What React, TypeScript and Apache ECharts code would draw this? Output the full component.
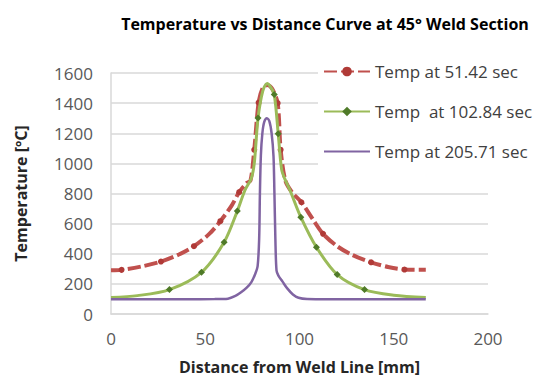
import React, { useEffect, useRef } from "react";
import * as echarts from "echarts";

const title = "Temperature vs Distance Curve at 45\u00B0 Weld Section";
const xName = "Distance from Weld Line [mm]";
const yName = "Temperature [\u00BAC]";
const xTicks = { min: 0, max: 200, interval: 50 };
const yTicks = { min: 0, max: 1600, interval: 200 };

const seriesNames = ["Temp at 51.42 sec", "Temp  at 102.84 sec", "Temp at 205.71 sec"];

// Temp at 51.42 sec
const redX = [0, 5.6, 16, 26.5, 36, 44, 52, 58, 64, 68, 72, 74, 76, 78.3, 80.5, 83, 85.5, 88.4, 90, 92.5, 96, 101, 107, 112.5, 120, 128, 138, 147, 155.7, 167];
const redT = [290, 293, 315, 348, 395, 450, 530, 616, 720, 809, 870, 886, 1090, 1403, 1500, 1520, 1495, 1400, 1090, 886, 809, 742, 630, 532, 450, 392, 343, 312, 295, 293];
const redM = [0, 1, 0, 1, 0, 1, 0, 1, 0, 1, 0, 0, 1, 1, 0, 0, 0, 1, 1, 0, 0, 1, 0, 1, 0, 0, 1, 0, 1, 0];

// Temp at 102.84 sec
const greenX = [0, 14, 31, 48, 60, 67, 71, 74.4, 76, 78, 80.5, 82.8, 84.5, 86.6, 88.7, 90.5, 92.2, 95, 100.7, 109, 120, 134.5, 150, 167];
const greenT = [110, 122, 162, 277, 476, 683, 820, 900, 1000, 1301, 1480, 1530, 1510, 1458, 1197, 960, 897, 820, 643, 443, 262, 162, 125, 110];
const greenM = [0, 0, 1, 1, 1, 1, 0, 0, 0, 1, 0, 0, 0, 1, 1, 0, 0, 0, 1, 1, 1, 1, 0, 0];

// Temp at 205.71 sec
const purpleX = [0, 20, 40, 55, 62, 66, 69, 72, 74.4, 76.5, 77.8, 78.6, 79, 79.5, 80.3, 81.3, 82.7, 84, 85.2, 86.2, 86.7, 87.2, 87.8, 88.8, 91, 93.5, 96.5, 99.5, 104, 130, 167];
const purpleT = [98, 98, 98, 99, 102, 120, 144, 175, 210, 266, 320, 500, 800, 1050, 1200, 1275, 1300, 1280, 1200, 1050, 800, 500, 290, 255, 215, 170, 130, 108, 100, 98, 98];

function build(xs: number[], ts: number[], ms?: number[]) {
  return xs.map((x, i) => ({
    value: [x, ts[i]],
    symbol: ms && ms[i] ? undefined : "none",
  }));
}

const FONT = "Open Sans";

export default function App() {
  const ref = useRef<HTMLDivElement>(null);
  useEffect(() => {
    if (!ref.current) return;
    const chart = echarts.init(ref.current, null, { renderer: "svg" });
    chart.setOption({
      animation: false,
      backgroundColor: "#ffffff",
      textStyle: { fontFamily: FONT },
      title: {
        text: title,
        left: 320,
        top: 11,
        textAlign: "center",
        textStyle: { fontFamily: FONT, fontSize: 16, fontWeight: "bold", color: "#000" },
      },
      grid: { left: 111, right: 54, top: 73, bottom: 66, containLabel: false },
      legend: {
        orient: "vertical",
        left: 318,
        top: 58,
        backgroundColor: "#ffffff",
        padding: [5, 10, 10, 5],
        itemGap: 23,
        itemWidth: 46,
        itemHeight: 12,
        textStyle: { fontFamily: FONT, fontSize: 17, color: "#404040" },
        data: [
          { name: seriesNames[0] },
          { name: seriesNames[1] },
          { name: seriesNames[2], itemStyle: { opacity: 0 } },
        ],
      },
      xAxis: {
        type: "value",
        min: xTicks.min,
        max: xTicks.max,
        interval: xTicks.interval,
        name: xName,
        nameLocation: "middle",
        nameGap: 45,
        nameTextStyle: { fontFamily: FONT, fontSize: 16, fontWeight: "bold", color: "#262626" },
        axisLine: { show: true, lineStyle: { color: "#d9d9d9", width: 1.5 } },
        axisTick: { show: false },
        splitLine: { show: false },
        axisLabel: { fontFamily: FONT, fontSize: 17, color: "#595959", margin: 16 },
      },
      yAxis: {
        type: "value",
        min: yTicks.min,
        max: yTicks.max,
        interval: yTicks.interval,
        name: yName,
        nameLocation: "middle",
        nameGap: 82,
        nameTextStyle: { fontFamily: FONT, fontSize: 16, fontWeight: "bold", color: "#262626" },
        axisLine: { show: true, lineStyle: { color: "#d9d9d9", width: 1.5 } },
        axisTick: { show: false },
        splitLine: { show: true, lineStyle: { color: "#d9d9d9", width: 1.5 } },
        axisLabel: {
          fontFamily: FONT,
          fontSize: 17,
          color: "#595959",
          margin: 18,
          formatter: (v: number) => String(v),
        },
      },
      series: [
        {
          name: seriesNames[0],
          type: "line",
          smooth: 0.3,
          symbol: "circle",
          symbolSize: 6,
          showSymbol: true,
          lineStyle: { color: "#C0504D", width: 4, type: [13, 4] },
          itemStyle: { color: "#B03A37", borderWidth: 0 },
          data: build(redX, redT, redM),
          z: 2,
        },
        {
          name: seriesNames[1],
          type: "line",
          smooth: 0.3,
          symbol: "diamond",
          symbolSize: 7,
          showSymbol: true,
          lineStyle: { color: "#9BBB59", width: 3 },
          itemStyle: { color: "#4F7A28", borderWidth: 0 },
          data: build(greenX, greenT, greenM),
          z: 3,
        },
        {
          name: seriesNames[2],
          type: "line",
          smooth: 0.3,
          symbol: "none",
          showSymbol: false,
          lineStyle: { color: "#8064A2", width: 2.5 },
          itemStyle: { color: "#8064A2" },
          data: build(purpleX, purpleT),
          z: 4,
        },
      ],
    });
    return () => chart.dispose();
  }, []);
  return (
    <div
      ref={ref}
      style={{ position: "fixed", left: 0, top: 0, width: 542, height: 380 }}
    />
  );
}
